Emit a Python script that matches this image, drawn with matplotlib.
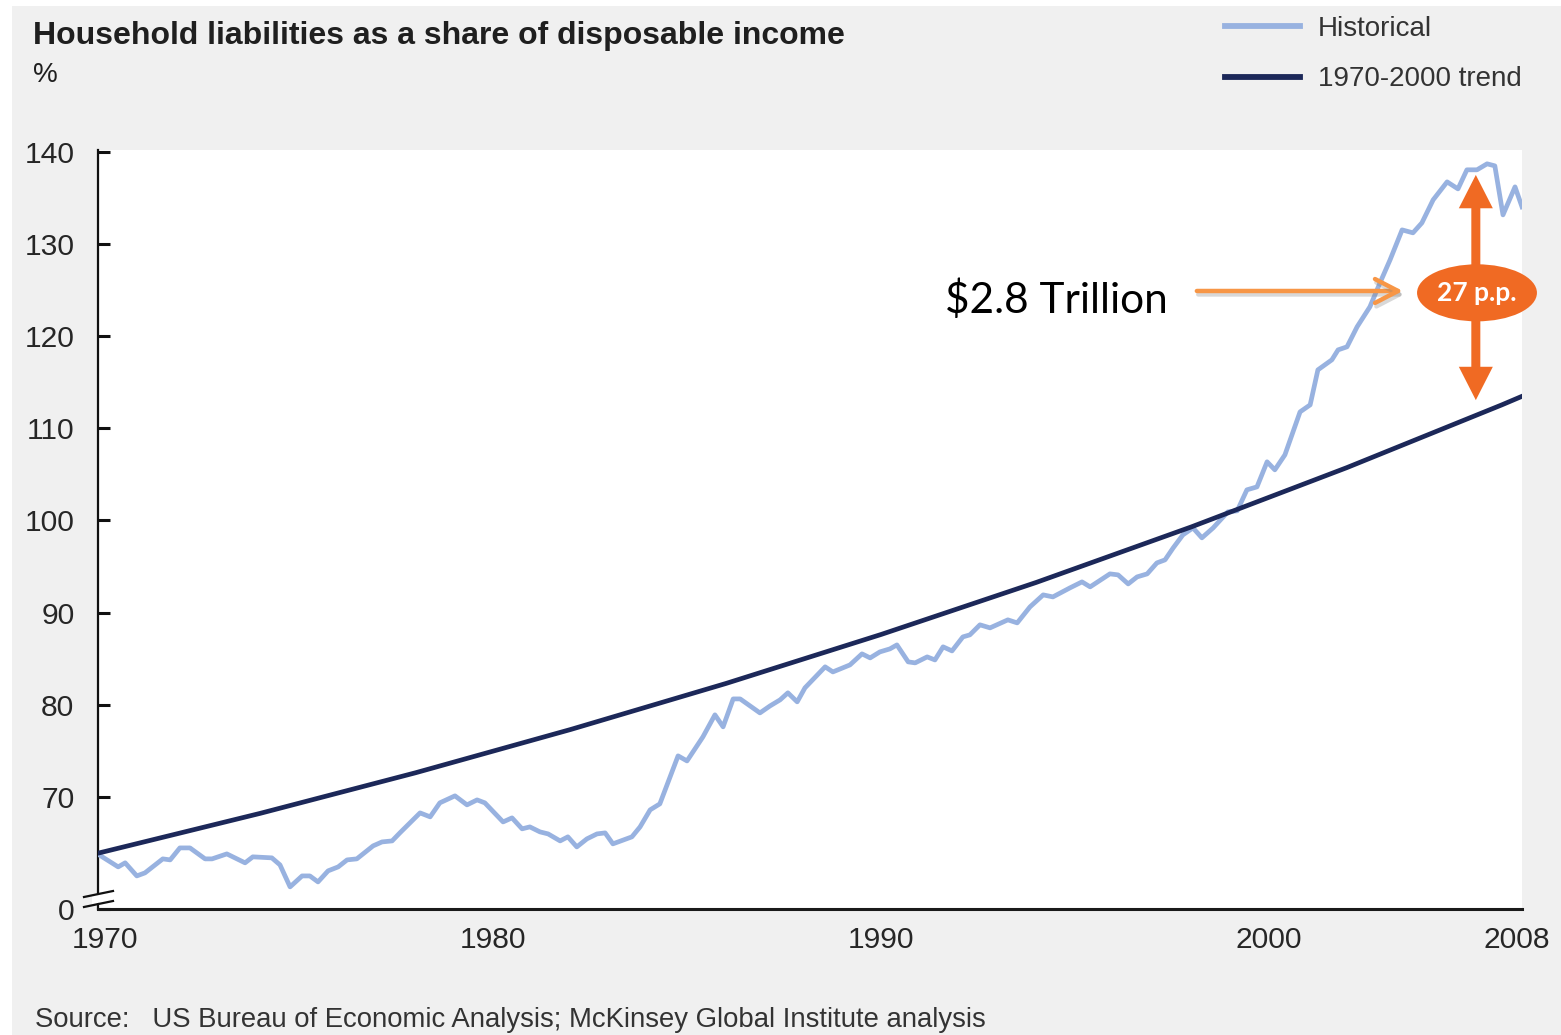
import matplotlib
matplotlib.use("Agg")
import numpy as np
import matplotlib.pyplot as plt
from matplotlib.patches import Ellipse, Rectangle, Polygon
from matplotlib.lines import Line2D
import matplotlib.patheffects as pe

plt.rcParams["font.family"] = ["Liberation Sans", "DejaVu Sans"]

# ---------------------------------------------------------------- data
hist_year = [
    1969.85, 1970.34, 1970.52, 1970.82, 1971.03, 1971.49, 1971.68, 1971.93,
    1972.19, 1972.58, 1972.76, 1973.14, 1973.61, 1973.81, 1974.30, 1974.51,
    1974.77, 1975.08, 1975.28, 1975.49, 1975.75, 1976.01, 1976.24, 1976.49,
    1976.91, 1977.14, 1977.40, 1977.60, 1978.12, 1978.38, 1978.63, 1979.02,
    1979.33, 1979.59, 1979.79, 1980.26, 1980.49, 1980.75, 1980.95, 1981.21,
    1981.42, 1981.73, 1981.93, 1982.16, 1982.42, 1982.68, 1982.89, 1983.09,
    1983.58, 1983.79, 1984.05, 1984.30, 1984.77, 1985.00, 1985.41, 1985.72,
    1985.93, 1986.19, 1986.37, 1986.88, 1987.14, 1987.40, 1987.60, 1987.84,
    1988.04, 1988.56, 1988.76, 1989.20, 1989.51, 1989.72, 1989.97, 1990.23,
    1990.41, 1990.70, 1990.88, 1991.19, 1991.39, 1991.60, 1991.83, 1992.11,
    1992.29, 1992.55, 1992.81, 1993.27, 1993.51, 1993.84, 1994.18, 1994.43,
    1994.87, 1995.18, 1995.39, 1995.90, 1996.11, 1996.37, 1996.60, 1996.86,
    1997.11, 1997.32, 1997.53, 1997.78, 1998.04, 1998.27, 1998.56, 1998.94,
    1999.18, 1999.43, 1999.69, 1999.95, 2000.15, 2000.41, 2000.80, 2001.06,
    2001.26, 2001.62, 2001.78, 2002.01, 2002.27, 2002.60, 2002.86, 2003.12,
    2003.43, 2003.71, 2003.94, 2004.23, 2004.59, 2004.87, 2005.10, 2005.36,
    2005.62, 2005.82, 2006.03, 2006.34, 2006.52,
]
hist_value = [
    63.70, 62.40, 62.84, 61.42, 61.75, 63.27, 63.16, 64.46,
    64.46, 63.27, 63.27, 63.81, 62.84, 63.49, 63.38, 62.62,
    60.23, 61.42, 61.42, 60.77, 61.97, 62.40, 63.16, 63.27,
    64.68, 65.11, 65.22, 66.09, 68.26, 67.83, 69.35, 70.11,
    69.13, 69.67, 69.35, 67.28, 67.72, 66.53, 66.74, 66.20,
    65.98, 65.22, 65.66, 64.57, 65.44, 65.98, 66.09, 64.90,
    65.66, 66.74, 68.59, 69.24, 74.45, 73.90, 76.51, 78.90,
    77.60, 80.63, 80.63, 79.11, 79.87, 80.53, 81.29, 80.31,
    81.83, 84.11, 83.56, 84.32, 85.52, 85.08, 85.73, 86.06,
    86.49, 84.65, 84.54, 85.19, 84.86, 86.28, 85.84, 87.36,
    87.58, 88.67, 88.34, 89.21, 88.88, 90.62, 91.92, 91.70,
    92.68, 93.33, 92.79, 94.20, 94.09, 93.11, 93.87, 94.20,
    95.39, 95.72, 97.02, 98.43, 99.19, 98.11, 99.19, 100.93,
    101.04, 103.32, 103.64, 106.36, 105.49, 107.12, 111.78, 112.54,
    116.34, 117.43, 118.51, 118.84, 121.01, 123.18, 125.78, 128.28,
    131.53, 131.21, 132.29, 134.79, 136.74, 135.98, 138.05, 138.05,
    138.70, 138.48, 133.16, 136.20, 134.03,
]

trend_year = [1969.85, 1970, 1974, 1978, 1982, 1986, 1990, 1994, 1998, 2002, 2006, 2006.52]
trend_value = [63.92, 64.07, 68.21, 72.61, 77.31, 82.30, 87.62, 93.27, 99.30, 105.72, 112.54, 113.47]

series_labels = ["Historical", "1970-2000 trend"]

x_tick_labels = ["1970", "1980", "1990", "2000", "2008"]
y_tick_values = [70, 80, 90, 100, 110, 120, 130, 140]
y_axis_floor_label = "0"

gap_pp = 27
gap_label = "27 p.p."
gap_money = "$2.8 Trillion"

title = "Household liabilities as a share of disposable income"
unit = "%"
source = "Source:   US Bureau of Economic Analysis; McKinsey Global Institute analysis"

# ---------------------------------------------------------------- styles
HIST_C = "#98B2E0"
TREND_C = "#1C2859"
ORANGE = "#F06A23"
ORANGE_LIGHT = "#F79646"
BG = "#F0F0F0"
TXT = "#262626"

W, H = 1561, 1035


def fx(px):
    return px / W


def fy(py):
    return 1 - py / H


fig = plt.figure(figsize=(W / 100, H / 100), dpi=100, facecolor="white")
fig.patches.append(Rectangle((fx(12), 0), 1 - fx(12), fy(6), transform=fig.transFigure,
                             facecolor=BG, edgecolor="none", zorder=-10))

ax = fig.add_axes([fx(98), fy(909), fx(1522) - fx(98), fy(150) - fy(909)])
ax.set_facecolor("white")

x_lo, x_hi = 1969.82, 2006.52
y_lo, y_hi = 57.83, 140.2

h_line, = ax.plot(hist_year, hist_value, color=HIST_C, lw=3.4, solid_joinstyle="round",
                  label=series_labels[0], zorder=3)
t_line, = ax.plot(trend_year, trend_value, color=TREND_C, lw=3.4, solid_joinstyle="round",
                  label=series_labels[1], zorder=4)

ax.set_xlim(x_lo, x_hi)
ax.set_ylim(y_lo, y_hi)

ax.set_yticks([y_lo] + y_tick_values)
ax.set_yticklabels([y_axis_floor_label] + [str(v) for v in y_tick_values])
ax.set_xticks([1970, 1980, 1990, 2000, 2006.39])
ax.set_xticklabels(x_tick_labels)

for s in ("top", "right"):
    ax.spines[s].set_visible(False)
ax.spines["left"].set_linewidth(1.6)
ax.spines["left"].set_color("#111111")
ax.spines["bottom"].set_linewidth(2.2)
ax.spines["bottom"].set_color("#1a1a1a")

ax.tick_params(axis="y", direction="in", length=8.6, width=2.2, pad=17,
               labelsize=21.6, labelcolor=TXT, color="#111111")
ax.tick_params(axis="x", length=0, pad=12.5, labelsize=21.6, labelcolor=TXT)

# axis break marks on the y axis
fig.patches.append(Polygon([(fx(92), fy(895)), (fx(104), fy(893)), (fx(104), fy(902)), (fx(92), fy(904))],
                           closed=True, transform=fig.transFigure, facecolor="white",
                           edgecolor="none", zorder=20))
for y0, y1 in ((897, 891), (907, 901)):
    fig.lines.append(Line2D([fx(84), fx(113)], [fy(y0), fy(y1)], transform=fig.transFigure,
                            color="#111111", lw=1.6, zorder=21))

# gap annotation: double arrow between trend and peak
arrow_x = 2005.33
lower = float(np.interp(arrow_x, trend_year, trend_value))
upper = lower + gap_pp
mid_val = 124.7
for end, shrink in ((upper, 6), (lower, 11)):
    ax.annotate("", xy=(arrow_x, end), xytext=(arrow_x, mid_val),
                arrowprops=dict(arrowstyle="simple,head_length=1.0,head_width=1.02,tail_width=0.27",
                                mutation_scale=24, color=ORANGE, lw=0,
                                shrinkA=0, shrinkB=shrink),
                zorder=6, annotation_clip=False)
ax.add_patch(Ellipse((2005.36, mid_val), width=3.09, height=6.19, facecolor=ORANGE,
                     edgecolor="none", zorder=7, clip_on=False))
ax.text(2005.36, mid_val, gap_label, ha="center", va="center", color="white",
        fontsize=19, fontweight="bold", family=["Lato", "DejaVu Sans"], zorder=8)

# pointer arrow from the dollar amount
ax.annotate("", xy=(2003.45, 124.9), xytext=(1998.14, 124.9),
            arrowprops=dict(arrowstyle="->,head_length=0.83,head_width=0.43",
                            mutation_scale=20, color=ORANGE_LIGHT, lw=3.2,
                            shrinkA=0, shrinkB=0,
                            path_effects=[pe.SimpleLineShadow(offset=(1, -2.5),
                                                              shadow_color="gray", alpha=0.3),
                                          pe.Normal()]),
            zorder=6)
fig.text(fx(945), fy(313), gap_money, ha="left", va="baseline", fontsize=30.5,
         family=["Lato", "DejaVu Sans"], color="black")

# titles and notes
fig.text(fx(33), fy(44), title, ha="left", va="baseline", fontsize=23,
         fontweight="bold", color="#1F1F1F")
fig.text(fx(33), fy(82), unit, ha="left", va="baseline", fontsize=20, color="#1F1F1F")
fig.text(fx(35), fy(1027), source, ha="left", va="baseline", fontsize=19.8, color="#333333")

leg = fig.legend([h_line, t_line], series_labels, loc="upper left",
                 bbox_to_anchor=(fx(1225), fy(16)), frameon=False, prop={"size": 20},
                 handlelength=2.7, handletextpad=0.65, labelspacing=0.88,
                 borderpad=0, borderaxespad=0, labelcolor="#333333")
for ln in leg.get_lines():
    ln.set_linewidth(4.2)

fig.savefig("out.png", dpi=100, facecolor=fig.get_facecolor())
